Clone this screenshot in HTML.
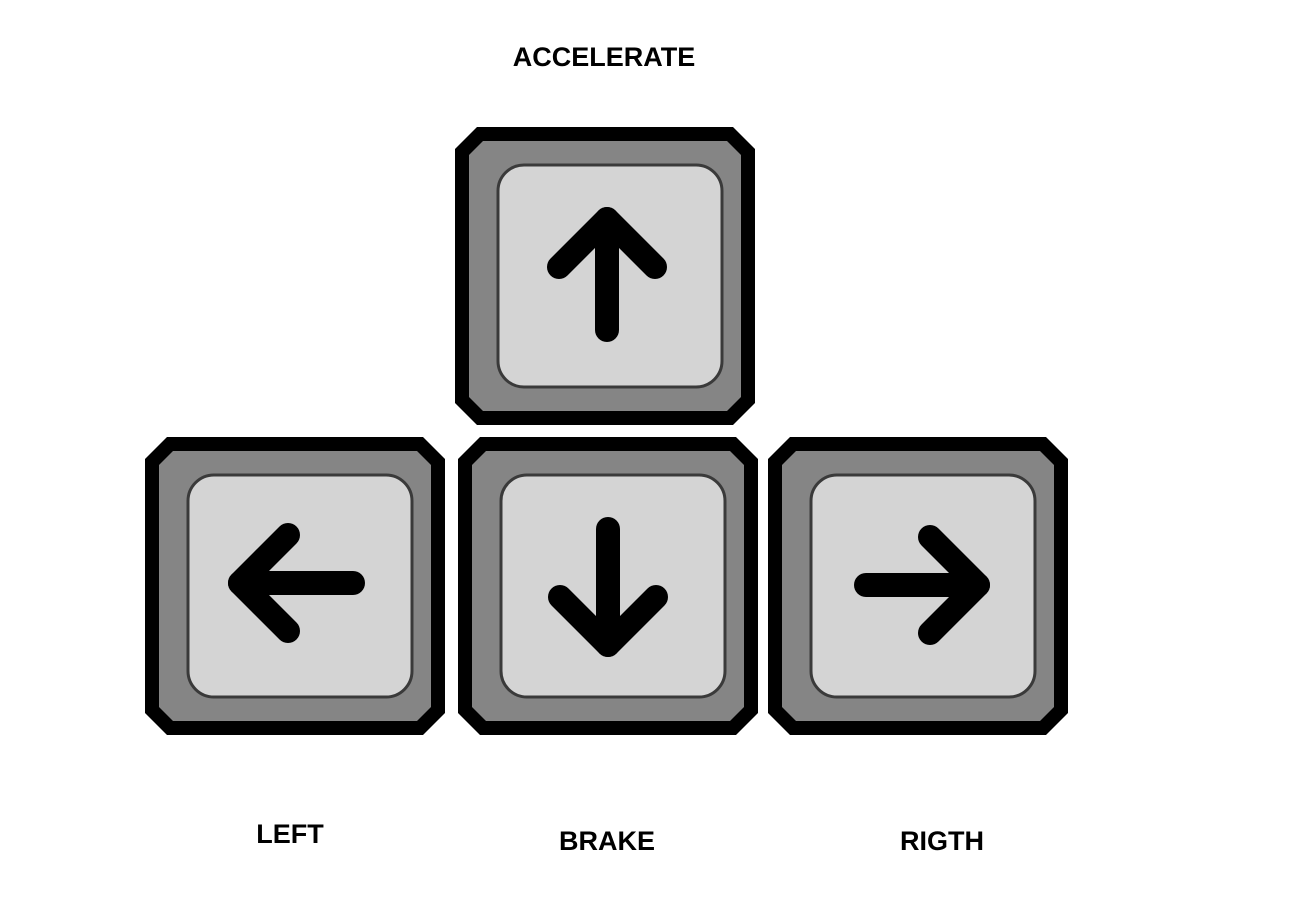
<!DOCTYPE html>
<html>
<head>
<meta charset="utf-8">
<style>
  html,body{margin:0;padding:0;background:#fff;}
  body{width:1310px;height:917px;overflow:hidden;}
  svg{display:block;}
  text{font-family:"Liberation Sans","DejaVu Sans",sans-serif;font-weight:bold;fill:#000;}
</style>
</head>
<body>
<svg width="1310" height="917" viewBox="0 0 1310 917">
  <defs>
    <g id="keybase">
      <path d="M22,0 H278 L300,22 V276 L278,298 H22 L0,276 V22 Z" fill="#000"/>
      <path d="M28,14 H272 L286,28 V270 L272,284 H28 L14,270 V28 Z" fill="#858585"/>
      <rect x="43" y="38" width="224" height="222" rx="26" ry="26" fill="#d4d4d4" stroke="#3a3a3a" stroke-width="3"/>
    </g>
  </defs>

  <text x="604" y="66" font-size="27" text-anchor="middle">ACCELERATE</text>

  <g transform="translate(455,127)">
    <use href="#keybase"/>
    <g stroke="#000" stroke-width="24" stroke-linecap="round" stroke-linejoin="round" fill="none">
      <line x1="152" y1="203" x2="152" y2="92"/>
      <polyline points="104,140 152,92 200,140"/>
    </g>
  </g>

  <g transform="translate(145,437)">
    <use href="#keybase"/>
    <g stroke="#000" stroke-width="24" stroke-linecap="round" stroke-linejoin="round" fill="none">
      <line x1="208" y1="146" x2="95" y2="146"/>
      <polyline points="143,98 95,146 143,194"/>
    </g>
  </g>

  <g transform="translate(458,437)">
    <use href="#keybase"/>
    <g stroke="#000" stroke-width="24" stroke-linecap="round" stroke-linejoin="round" fill="none">
      <line x1="150" y1="92" x2="150" y2="208"/>
      <polyline points="102,160 150,208 198,160"/>
    </g>
  </g>

  <g transform="translate(768,437)">
    <use href="#keybase"/>
    <g stroke="#000" stroke-width="24" stroke-linecap="round" stroke-linejoin="round" fill="none">
      <line x1="98" y1="148" x2="210" y2="148"/>
      <polyline points="162,100 210,148 162,196"/>
    </g>
  </g>

  <text x="290" y="843" font-size="27" text-anchor="middle">LEFT</text>
  <text x="607" y="850" font-size="27" text-anchor="middle">BRAKE</text>
  <text x="942" y="850" font-size="27" text-anchor="middle">RIGTH</text>
</svg>
</body>
</html>
